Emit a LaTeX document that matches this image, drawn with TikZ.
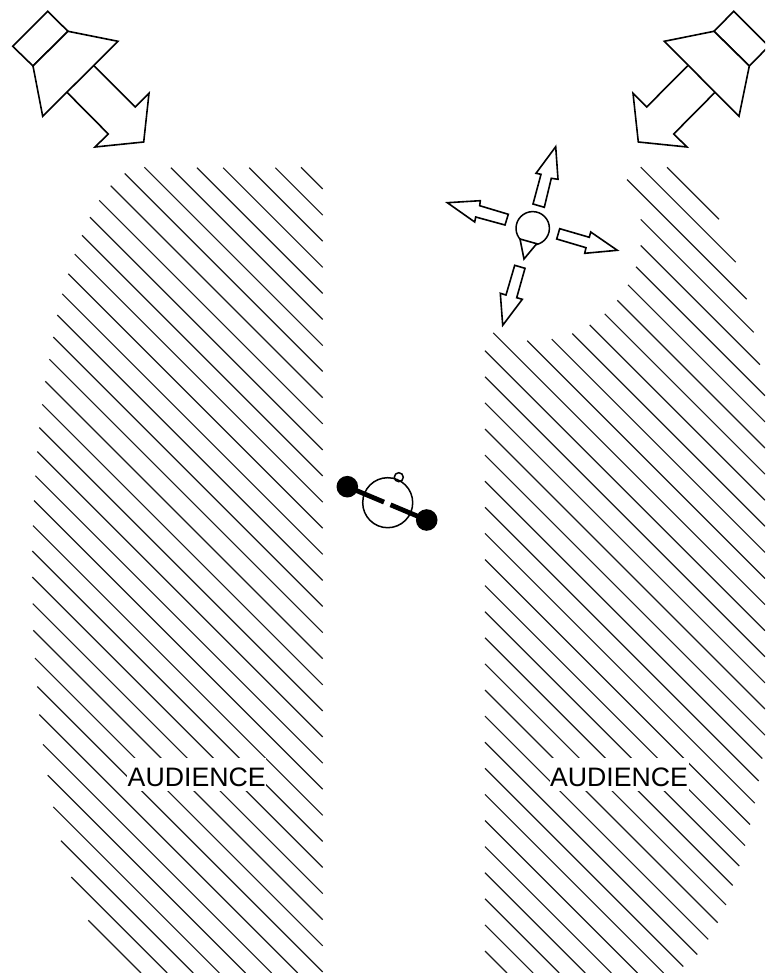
\documentclass[tikz,border=0pt]{standalone}
\usepackage{fontspec}
\setmainfont{Liberation Sans}
\tikzset{
  px/.style={x=1pt,y=-1pt},
  hatch/.style={line width=1.15pt,black!90},
  outline/.style={line width=1.6pt,line join=miter,draw=black,fill=white},
  crowdlabel/.style={fill=white,inner sep=0pt,anchor=base,text width=139pt,align=center,text height=27.7pt,text depth=5pt,font=\fontsize{26.7pt}{30pt}\selectfont},
  bigdot/.style={circle,fill=black,inner sep=0pt,minimum size=21.6pt},
  ring/.style={circle,draw=black,line width=1.5pt,inner sep=0pt},
  bar/.style={line width=4.8pt,black}
}
\begin{document}
\begin{tikzpicture}[px]
\useasboundingbox (0,0) rectangle (765,973);
\clip (0,0) rectangle (765,973);
% left audience hatching: c = y - x / start x
\foreach \c/\sx in {-133.7/301,-107.6/275.3,-81.5/249.2,-55.4/223.1,-29.3/197,-3.2/170.9,22.9/144.4,
  48.8/124.7,75/110.7,101.1/99.3,127.2/90,153.3/82,179.4/74.7,205.5/68.3,231.6/62.3,257.7/57.3,283.8/53.3,
  309.9/49.3,336/45.3,362.1/42.3,388.2/39.3,414.3/37.3,440.4/35.3,466.5/34,492.6/33,518.7/32.3,544.8/32.3,
  570.9/32.7,597/33.3,623.1/35,649.2/37.3,675.3/39.3,701.4/43,727.5/47.7,753.6/53.3,779.7/61,805.8/71.3,832/88.3}{
  \pgfmathsetmacro\ex{min(322.7,973-\c)}
  \pgfmathsetmacro\sy{\sx+\c}
  \pgfmathsetmacro\ey{\ex+\c}
  \draw[hatch] (\sx,\sy) -- (\ex,\ey);
}
% right audience hatching: c / start x / end x
\foreach \c/\sx/\ex in {-499.7/667/719,-473.6/640.7/735.7,-447.5/627/746.7,-421.4/640.7/753.7,-395.3/640.7/760,
  -369.2/636/765,-343.1/628/765,-317/617.3/765,-290.9/604.7/765,-264.8/589.7/765,-238.7/572.3/765,-212.6/551.7/765,
  -186.5/527.2/765,-160.4/493.3/765,-134.3/485/765,-108.2/485/765,-82.1/485/765,-56/485/765,-29.9/485/765,
  -3.8/485/762.3,22.3/485/758.7,48.4/485/754.7,74.5/485/750,100.6/485/745,126.7/485/739.3,152.8/485/732.7,
  178.9/485/726,205/485/717.7,231.1/485/708.3,257.2/485/697.3,283.3/485/683.3,309.4/485/663.6,335.5/485/637.5,
  361.6/485/611.4,387.7/485/585.3,413.8/485/559.2,439.9/485/533.1,466/485/507}{
  \pgfmathsetmacro\sy{\sx+\c}
  \pgfmathsetmacro\ey{\ex+\c}
  \draw[hatch] (\sx,\sy) -- (\ex,\ey);
}
\node[crowdlabel] (audl) at (196.7,786) {AUDIENCE};
\node[crowdlabel] (audr) at (619,786) {AUDIENCE};
% left speaker
\draw[outline] (94,65.7) -- (135.3,107) -- (149,93.3) -- (143.7,142) -- (95,147) -- (108.3,134) -- (67,92.3);
\draw[outline] (47.7,11.3) -- (68,31.3) -- (33,66) -- (12.7,46.3) -- cycle;
\draw[outline] (68,31.3) -- (118,41.3) -- (42.7,116.3) -- (33,66) -- cycle;
% right speaker
\draw[outline] (687.7,65.7) -- (646.7,107) -- (633,93.3) -- (638.3,142) -- (687,147) -- (673.7,134) -- (715,92.3);
\draw[outline] (733.7,11.3) -- (714,31.3) -- (749.3,66) -- (768.7,46.3) -- cycle;
\draw[outline] (714,31.3) -- (664.3,41.3) -- (739,116.3) -- (749.3,66) -- cycle;
% singer
\node[ring,minimum size=33.4pt] (head) at (532.7,228.3) {};
\draw[outline] (520,239) -- (536.7,243.7) -- (524,259) -- cycle;
\draw[outline] (533,204) -- (544.3,207.3) -- (551.3,178.3) -- (558,179.3) -- (555.7,146.7) -- (536,173.3) -- (541,174.3) -- cycle;
\draw[outline] (508.3,214.3) -- (505,225) -- (475.7,217) -- (474.7,222) -- (447.3,202.7) -- (480.3,200.7) -- (479.7,205.7) -- cycle;
\draw[outline] (559.7,228.7) -- (556.7,239) -- (586,247.7) -- (584.7,253.3) -- (617.3,250.3) -- (590.7,232) -- (589.3,237.3) -- cycle;
\draw[outline] (514.7,265.3) -- (525,268.3) -- (516.7,297.7) -- (522.3,299.3) -- (502.7,325.3) -- (500.3,293.3) -- (506,295) -- cycle;
% performer
\node[ring,minimum size=50pt] (body) at (387.7,502.7) {};
\node[ring,minimum size=9pt] (mic) at (398.8,477.2) {};
\node[bigdot] (dl) at (347.3,486.7) {};
\node[bigdot] (dr) at (426.7,520) {};
\coordinate (gl) at (384,502.1);
\coordinate (gr) at (390.5,504.8);
\draw[bar] (dl.center) -- (gl);
\draw[bar] (gr) -- (dr.center);
\end{tikzpicture}
\end{document}
